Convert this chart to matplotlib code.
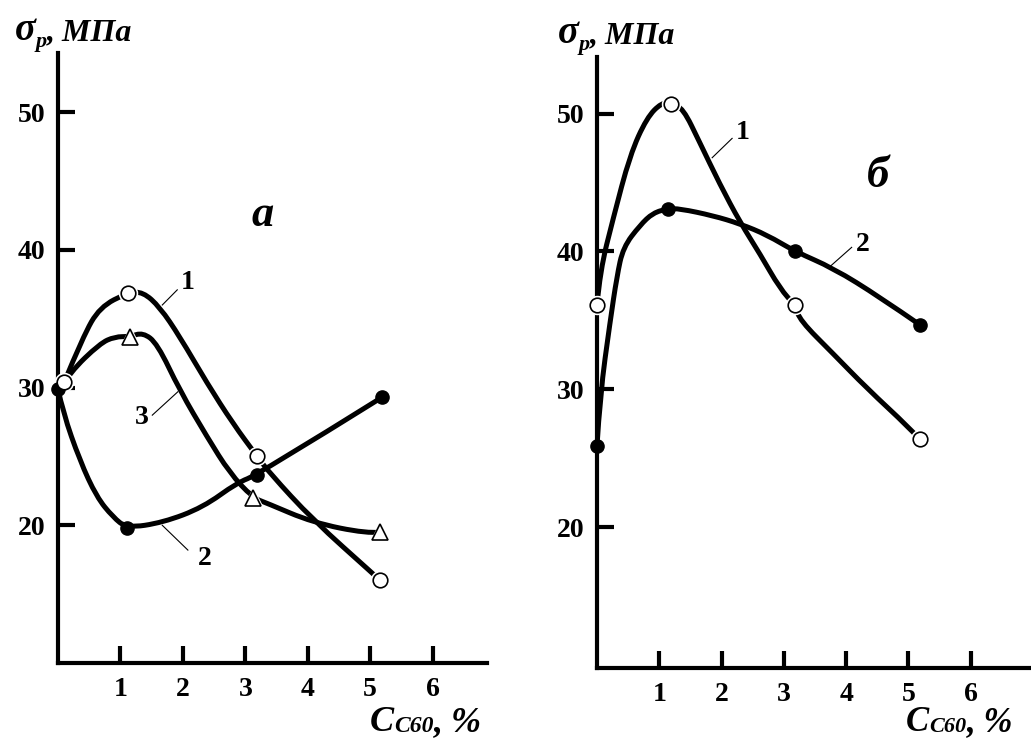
"""
Tensile strength vs C60 content, two panels (a, b), redrawn from a scanned figure.
"""

import matplotlib.pyplot as plt
from matplotlib.path import Path
from matplotlib.patches import PathPatch

plt.rcParams['font.family'] = ['Liberation Serif', 'DejaVu Serif']

W, H = 1031, 740

x_ticks = [1, 2, 3, 4, 5, 6]
y_ticks = [20, 30, 40, 50]

# ---- panel a: measured points ----
a1_x = [0.1, 1.12, 3.19, 5.16]
a1_y = [30.4, 36.9, 25.0, 16.0]
a2_x = [0.0, 1.10, 3.19, 5.19]
a2_y = [29.9, 19.8, 23.65, 29.3]
a3_x = [1.15, 3.12, 5.16]
a3_y = [33.7, 22.0, 19.5]

# ---- panel a: hand-drawn curve traces ----
a1_trace_x = [0.1, 0.40, 0.67, 1.12, 1.36, 1.63, 1.95, 2.39, 2.80, 3.19, 3.39, 4.08, 5.04, 5.16]
a1_trace_y = [30.4, 33.7, 35.85, 36.9, 36.95, 35.85, 33.7, 30.3, 27.4, 25.0, 23.8, 20.4, 16.5, 16.0]
a2_trace_x = [0.0, 0.08, 0.35, 0.62, 0.88, 1.10, 1.68, 2.32, 2.87, 3.19, 5.19]
a2_trace_y = [29.9, 28.2, 24.7, 22.05, 20.6, 19.8, 20.2, 21.3, 23.1, 23.65, 29.3]
a3_trace_x = [0.05, 0.19, 0.67, 0.91, 1.15, 1.36, 1.59, 1.95, 2.39, 2.75, 3.12, 3.35, 4.08, 4.95, 5.16]
a3_trace_y = [30.0, 31.1, 33.2, 33.7, 33.7, 34.0, 33.2, 29.8, 26.4, 23.8, 22.0, 21.6, 20.2, 19.4, 19.5]

# ---- panel b: measured points ----
b1_x = [0.0, 1.19, 3.18, 5.18]
b1_y = [36.1, 50.7, 36.1, 26.4]
b2_x = [0.0, 1.14, 3.18, 5.18]
b2_y = [25.9, 43.1, 40.0, 34.7]

# ---- panel b: curve traces ----
b1_trace_x = [0.0, 0.05, 0.26, 0.53, 0.80, 1.04, 1.19, 1.38, 1.65, 1.97, 2.30, 2.62, 2.94,
              3.18, 3.26, 3.79, 4.33, 5.02, 5.18]
b1_trace_y = [36.1, 38.6, 42.4, 47.0, 49.7, 50.8, 50.7, 50.4, 47.9, 44.9, 42.1, 39.8, 37.3,
              36.1, 35.0, 32.6, 30.1, 27.2, 26.4]
b2_trace_x = [0.0, 0.05, 0.21, 0.32, 0.42, 0.69, 0.90, 1.14, 1.33, 1.86, 2.30, 2.73, 3.18,
              3.79, 4.54, 5.18]
b2_trace_y = [25.9, 29.6, 34.9, 38.2, 40.3, 41.9, 42.8, 43.1, 43.1, 42.6, 42.0, 41.2, 40.0,
              38.8, 36.7, 34.7]


def px_axes(left, top, right, bottom):
    return [left / W, 1 - bottom / H, (right - left) / W, (bottom - top) / H]


def style_axis(ax, xmax, ylim):
    ax.set_xlim(0, xmax)
    ax.set_ylim(*ylim)
    for s in ('top', 'right'):
        ax.spines[s].set_visible(False)
    for s in ('left', 'bottom'):
        ax.spines[s].set_linewidth(3)
    ax.set_xticks(x_ticks)
    ax.set_yticks(y_ticks)
    ax.tick_params(direction='in', length=12, width=3, labelsize=20)
    ax.tick_params(axis='x', pad=10)
    ax.tick_params(axis='y', pad=9)
    for lab in ax.get_xticklabels() + ax.get_yticklabels():
        lab.set_fontweight('bold')
    ax.patch.set_alpha(0)


def smooth_path(tx, ty):
    # quadratic Bezier pieces through the traced points, so the pen line looks hand drawn
    pts = list(zip(tx, ty))
    verts = [pts[0]]
    codes = [Path.MOVETO]
    for i in range(1, len(pts) - 1):
        if i < len(pts) - 2:
            end = ((pts[i][0] + pts[i + 1][0]) / 2, (pts[i][1] + pts[i + 1][1]) / 2)
        else:
            end = pts[-1]
        verts += [pts[i], end]
        codes += [Path.CURVE3, Path.CURVE3]
    if len(pts) == 2:
        verts.append(pts[1])
        codes.append(Path.LINETO)
    return Path(verts, codes)


def curve(ax, tx, ty, mx, my, kind):
    patch = PathPatch(smooth_path(tx, ty), facecolor='none', edgecolor='black', lw=3.6,
                      capstyle='round', joinstyle='round', clip_on=False, zorder=2)
    ax.add_patch(patch)
    if kind == 'open':
        ax.plot(mx, my, 'o', ms=13, color='white', clip_on=False, zorder=3)
        ax.plot(mx, my, 'o', ms=10.5, mfc='white', mec='black', mew=1.2,
                clip_on=False, zorder=4)
    elif kind == 'tri':
        ax.plot(mx, my, '^', ms=14.5, color='white', clip_on=False, zorder=3)
        ax.plot(mx, my, '^', ms=12, mfc='white', mec='black', mew=1.2,
                clip_on=False, zorder=4)
    else:
        ax.plot(mx, my, 'o', ms=9.5, color='black', clip_on=False, zorder=4)


def tag(ax, text, xy_text, p0, p1):
    ax.plot([p0[0], p1[0]], [p0[1], p1[1]], color='black', lw=0.8, zorder=2)
    ax.text(*xy_text, text, fontsize=20, fontweight='bold', ha='center', va='center')


def chained(ax, x, y, pieces):
    """Write text pieces one after another; each piece is (text, size, dy in points)."""
    first, size, dy = pieces[0]
    prev = ax.text(x, y, first, transform=ax.figure.transFigure, fontsize=size,
                   style='italic', fontweight='bold', va='baseline', ha='left')
    for txt, size, dy in pieces[1:]:
        prev = ax.annotate(txt, xy=(1, y), xycoords=(prev, 'figure fraction'),
                           xytext=(0, dy), textcoords='offset points',
                           fontsize=size, style='italic', fontweight='bold',
                           va='baseline', ha='left', annotation_clip=False)


fig = plt.figure(figsize=(W / 100, H / 100), dpi=100)
ax_a = fig.add_axes(px_axes(58, 53, 487, 663))
ax_b = fig.add_axes(px_axes(597, 57, 1031, 668))

style_axis(ax_a, 6.87, (10, 54.3))
style_axis(ax_b, 6.97, (9.8, 54.1))

# panel a
curve(ax_a, a2_trace_x, a2_trace_y, a2_x, a2_y, 'filled')
curve(ax_a, a3_trace_x, a3_trace_y, a3_x, a3_y, 'tri')
curve(ax_a, a1_trace_x, a1_trace_y, a1_x, a1_y, 'open')
tag(ax_a, '1', (2.08, 37.6), (1.91, 37.1), (1.67, 36.0))
tag(ax_a, '3', (1.35, 27.8), (1.51, 28.0), (1.92, 29.7))
tag(ax_a, '2', (2.35, 17.6), (2.08, 18.2), (1.67, 20.0))
ax_a.text(3.28, 42.5, 'а', fontsize=32, style='italic', fontweight='bold',
          ha='center', va='center')

# panel b
curve(ax_b, b2_trace_x, b2_trace_y, b2_x, b2_y, 'filled')
curve(ax_b, b1_trace_x, b1_trace_y, b1_x, b1_y, 'open')
tag(ax_b, '1', (2.34, 48.6), (2.17, 48.2), (1.85, 46.8))
tag(ax_b, '2', (4.27, 40.5), (4.09, 40.3), (3.74, 38.9))
ax_b.text(4.51, 45.5, 'б', fontsize=32, style='italic', fontweight='bold',
          ha='center', va='center')

# axis captions
chained(ax_a, 15 / W, 1 - 40 / H, [('σ', 28, 0), ('р', 16, -5), (', МПа', 23, 0)])
chained(ax_b, 558 / W, 1 - 43 / H, [('σ', 28, 0), ('р', 16, -5), (', МПа', 23, 0)])
chained(ax_a, 370 / W, 1 - 731 / H, [('C', 26, 0), ('C60', 17, -1), (', %', 26, 0)])
chained(ax_b, 906 / W, 1 - 731 / H, [('C', 25, 0), ('C60', 16, -1), (', %', 25, 0)])

fig.savefig('out.png', dpi=100)
